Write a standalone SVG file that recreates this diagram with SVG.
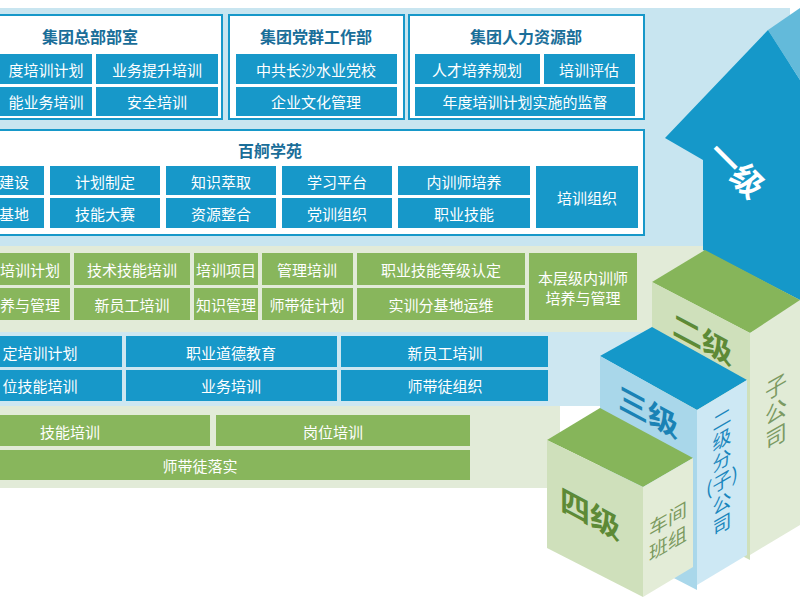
<svg xmlns="http://www.w3.org/2000/svg" width="800" height="600" viewBox="0 0 800 600">
<style>
text{font-family:"Noto Sans CJK SC","Liberation Sans",sans-serif;text-anchor:middle;dominant-baseline:central}
.b{fill:#1798c9}.g{fill:#88b65c}.w{fill:#fff;font-size:15px}
.p{fill:#fff;stroke:#1798c9;stroke-width:2}
.t{fill:#1a6e99;font-size:16px;font-weight:bold}
</style>
<rect width="800" height="600" fill="#fff"/>
<rect x="0" y="8" width="790" height="238" fill="#c8e5f0"/>
<rect x="0" y="246" width="800" height="86" fill="#e2ebd8"/>
<rect x="0" y="332" width="800" height="74" fill="#cde7f1"/>
<rect x="0" y="406" width="560" height="82" fill="#e2ebd8"/>
<g id="box1"><rect class="p" x="-2" y="15" width="224" height="104"/><text class="t" x="90" y="36">集团总部部室</text>
<rect class="b" x="0" y="54" width="92" height="30"/><text class="w" x="46" y="69">度培训计划</text>
<rect class="b" x="96" y="54" width="122" height="30"/><text class="w" x="157" y="69">业务提升培训</text>
<rect class="b" x="0" y="87" width="92" height="29"/><text class="w" x="46" y="101">能业务培训</text>
<rect class="b" x="96" y="87" width="122" height="29"/><text class="w" x="157" y="101">安全培训</text></g>
<g id="box2"><rect class="p" x="229" y="15" width="175" height="104"/><text class="t" x="316" y="36">集团党群工作部</text>
<rect class="b" x="236" y="54" width="161" height="30"/><text class="w" x="316" y="69">中共长沙水业党校</text>
<rect class="b" x="236" y="87" width="161" height="29"/><text class="w" x="316" y="101">企业文化管理</text></g>
<g id="box3"><rect class="p" x="409" y="15" width="235" height="104"/><text class="t" x="526" y="36">集团人力资源部</text>
<rect class="b" x="415" y="54" width="125" height="30"/><text class="w" x="477" y="69">人才培养规划</text>
<rect class="b" x="544" y="54" width="91" height="30"/><text class="w" x="589" y="69">培训评估</text>
<rect class="b" x="415" y="87" width="220" height="29"/><text class="w" x="525" y="101">年度培训计划实施的监督</text></g>
<g id="box4"><rect class="p" x="-2" y="130" width="646" height="105"/><text class="t" x="270" y="150">百舸学苑</text>
<rect class="b" x="0" y="166" width="44" height="29"/><text class="w" x="14" y="181">建设</text>
<rect class="b" x="0" y="198" width="44" height="30"/><text class="w" x="14" y="213">基地</text>
<rect class="b" x="50" y="166" width="110" height="29"/><text class="w" x="105" y="181">计划制定</text>
<rect class="b" x="50" y="198" width="110" height="30"/><text class="w" x="105" y="213">技能大赛</text>
<rect class="b" x="166" y="166" width="110" height="29"/><text class="w" x="221" y="181">知识萃取</text>
<rect class="b" x="166" y="198" width="110" height="30"/><text class="w" x="221" y="213">资源整合</text>
<rect class="b" x="282" y="166" width="110" height="29"/><text class="w" x="337" y="181">学习平台</text>
<rect class="b" x="282" y="198" width="110" height="30"/><text class="w" x="337" y="213">党训组织</text>
<rect class="b" x="398" y="166" width="132" height="29"/><text class="w" x="464" y="181">内训师培养</text>
<rect class="b" x="398" y="198" width="132" height="30"/><text class="w" x="464" y="213">职业技能</text>
<rect class="b" x="536" y="166" width="102" height="62"/><text class="w" x="587" y="197">培训组织</text></g>
<g id="level2">
<rect class="g" x="0" y="253" width="70" height="32"/><text class="w" x="30" y="269">培训计划</text>
<rect class="g" x="0" y="288" width="70" height="32"/><text class="w" x="30" y="304">养与管理</text>
<rect class="g" x="74" y="253" width="116" height="32"/><text class="w" x="132" y="269">技术技能培训</text>
<rect class="g" x="74" y="288" width="116" height="32"/><text class="w" x="132" y="304">新员工培训</text>
<rect class="g" x="194" y="253" width="64" height="32"/><text class="w" x="226" y="269">培训项目</text>
<rect class="g" x="194" y="288" width="64" height="32"/><text class="w" x="226" y="304">知识管理</text>
<rect class="g" x="262" y="253" width="91" height="32"/><text class="w" x="307" y="269">管理培训</text>
<rect class="g" x="262" y="288" width="91" height="32"/><text class="w" x="307" y="304">师带徒计划</text>
<rect class="g" x="357" y="253" width="168" height="32"/><text class="w" x="441" y="269">职业技能等级认定</text>
<rect class="g" x="357" y="288" width="168" height="32"/><text class="w" x="441" y="304">实训分基地运维</text>
<rect class="g" x="529" y="253" width="108" height="67"/><text class="w" x="583" y="277">本层级内训师</text><text class="w" x="583" y="297">培养与管理</text></g>
<g id="level3">
<rect class="b" x="0" y="336" width="122" height="31"/><text class="w" x="40" y="352">定培训计划</text>
<rect class="b" x="0" y="370" width="122" height="31"/><text class="w" x="40" y="385">位技能培训</text>
<rect class="b" x="126" y="336" width="211" height="31"/><text class="w" x="231" y="352">职业道德教育</text>
<rect class="b" x="126" y="370" width="211" height="31"/><text class="w" x="231" y="385">业务培训</text>
<rect class="b" x="341" y="336" width="207" height="31"/><text class="w" x="445" y="352">新员工培训</text>
<rect class="b" x="341" y="370" width="207" height="31"/><text class="w" x="445" y="385">师带徒组织</text></g>
<g id="level4">
<rect class="g" x="0" y="415" width="210" height="31"/><text class="w" x="70" y="431">技能培训</text>
<rect class="g" x="216" y="415" width="254" height="31"/><text class="w" x="333" y="431">岗位培训</text>
<rect class="g" x="0" y="450" width="470" height="30"/><text class="w" x="200" y="465">师带徒落实</text></g>
<g id="arrow">
<polygon points="768,30 800,8 800,80" fill="#63bada"/>
<polygon points="665,138 768,30 800,80 800,300 703,250 703,160" fill="#1598c9"/>
<text fill="#fff" font-size="32" font-weight="bold" transform="translate(738,168) rotate(45)">一级</text></g>
<g id="block2">
<polygon points="652,282 705,250 800,300 750,333" fill="#86b55a"/>
<polygon points="652,282 750,333 750,560 652,510" fill="#cfe0bb"/>
<polygon points="750,333 800,305 800,525 750,555" fill="#e1ebd6"/>
<text fill="#5d8a36" font-size="30" font-weight="bold" transform="translate(702,337) skewY(28)">二级</text>
<g fill="#7b9a63" font-size="22" transform="translate(776,410) skewY(-30)"><text y="-25">子</text><text y="0">公</text><text y="25">司</text></g></g>
<g id="block3">
<polygon points="600,356 652,327 747,380 697,410" fill="#1598c9"/>
<polygon points="600,356 697,410 697,590 600,540" fill="#a9d7ea"/>
<polygon points="697,410 747,380 747,555 697,585" fill="#cde8f4"/>
<text fill="#1a82b5" font-size="30" font-weight="bold" transform="translate(648,410) skewY(28)">三级</text>
<g fill="#1a86bd" font-size="19" transform="translate(722,470) skewY(-30)"><text y="-52">二</text><text y="-32">级</text><text y="-11">分</text><text y="10">(子)</text><text y="32">公</text><text y="53">司</text></g></g>
<g id="block4">
<polygon points="547,440 600,408 693,458 643,487" fill="#86b55a"/>
<polygon points="547,440 643,487 643,597 547,548" fill="#cfe0bb"/>
<polygon points="643,487 693,458 693,567 643,597" fill="#e3ecd7"/>
<text fill="#5d8a36" font-size="30" font-weight="bold" transform="translate(590,512) skewY(28)">四级</text>
<g fill="#7c9a5f" font-size="19" transform="translate(668,530) skewY(-30)"><text y="-12">车间</text><text y="12">班组</text></g></g>
</svg>
